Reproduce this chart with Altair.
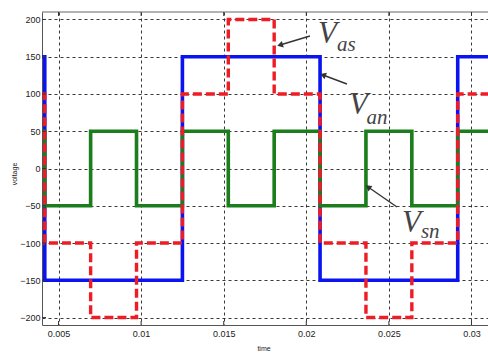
import math
import altair as alt
import pandas as pd

# ---- data ----
edges = [0.004, 0.004167, 0.006944, 0.009722, 0.0125, 0.015278, 0.018056,
         0.020833, 0.023611, 0.026389, 0.029167, 0.031]
van = [150, -150, -150, -150, 150, 150, 150, -150, -150, -150, 150, 150]
vsn = [50, -50, 50, -50, 50, -50, 50, -50, 50, -50, 50, 50]
vas = [100, -100, -200, -100, 100, 200, 100, -100, -200, -100, 100, 100]

x_ticks = [0.005, 0.01, 0.015, 0.02, 0.025, 0.03]
y_ticks = [-200, -150, -100, -50, 0, 50, 100, 150, 200]

# annotation texts and their anchor points (data coords)
ann_main = ["V", "V", "V"]
ann_sub = ["as", "an", "sn"]
ann_main_t = [0.02071, 0.02258, 0.02579]
ann_main_v = [168.4, 73.0, -85.2]
ann_sub_t = [0.02186, 0.02364, 0.02694]
ann_sub_v = [157.7, 60.0, -93.3]
arrow_t0 = [0.02022, 0.02246, 0.02549]
arrow_v0 = [177.8, 113.4, -51.7]
arrow_t1 = [0.01841, 0.02101, 0.02374]
arrow_v1 = [165.7, 125.5, -24.8]

X_DOMAIN = [0.004, 0.031]
Y_DOMAIN = [-210, 210]
W, H = 446, 313

xscale = alt.Scale(domain=X_DOMAIN, nice=False, zero=False)
yscale = alt.Scale(domain=Y_DOMAIN, nice=False, zero=False)

x_axis = alt.Axis(values=x_ticks, format=".3~f", title=None, ticks=False,
                  labelFontSize=9, labelFont="Liberation Sans", labelColor="#222",
                  labelPadding=4, domainColor="#555", domainWidth=1,
                  grid=True, gridDash=[3, 3], gridColor="#222", gridWidth=0.9,
                  labelFlush=False)
y_axis = alt.Axis(values=y_ticks, format="d", title=None, ticks=False,
                  labelFontSize=9, labelFont="Liberation Sans", labelColor="#222",
                  labelPadding=2, domainColor="#555", domainWidth=1,
                  grid=True, gridDash=[3, 3], gridColor="#222", gridWidth=0.9)


def X(field):
    return alt.X(field, type="quantitative", scale=xscale, axis=x_axis)


def Y(field):
    return alt.Y(field, type="quantitative", scale=yscale, axis=y_axis)


def series_df(vals):
    return pd.DataFrame({"t": edges, "v": vals})


base_line = alt.Chart(series_df(van)).mark_line(
    interpolate="step-after", color="#0a14f0", strokeWidth=3.6, clip=True
).encode(x=X("t"), y=Y("v"))

green_line = alt.Chart(series_df(vsn)).mark_line(
    interpolate="step-after", color="#1b7d1b", strokeWidth=3.6, clip=True
).encode(x=X("t"), y=Y("v"))

red_line = alt.Chart(series_df(vas)).mark_line(
    interpolate="step-after", color="#ee1c24", strokeWidth=3.4,
    strokeDash=[9, 4], clip=True
).encode(x=X("t"), y=Y("v"))

# inward tick marks and top border
xt = pd.DataFrame({"t": x_ticks})
yt = pd.DataFrame({"v": y_ticks})
top_ticks = alt.Chart(xt).mark_rule(color="#333", strokeWidth=1).encode(
    x=X("t"), y=alt.value(0), y2=alt.value(4))
bot_ticks = alt.Chart(xt).mark_rule(color="#333", strokeWidth=1).encode(
    x=X("t"), y=alt.value(H), y2=alt.value(H - 4))
left_ticks = alt.Chart(yt).mark_rule(color="#333", strokeWidth=1).encode(
    y=Y("v"), x=alt.value(0), x2=alt.value(4))
top_border = alt.Chart(pd.DataFrame({"a": [0]})).mark_rule(
    color="#666", strokeWidth=1).encode(x=alt.value(0), x2=alt.value(W), y=alt.value(0))

# arrows
sx = W / (X_DOMAIN[1] - X_DOMAIN[0])
sy = H / (Y_DOMAIN[1] - Y_DOMAIN[0])
angles = []
for a0, b0, a1, b1 in zip(arrow_t0, arrow_v0, arrow_t1, arrow_v1):
    dx = (a1 - a0) * sx
    dy = -(b1 - b0) * sy
    angles.append(math.degrees(math.atan2(dx, -dy)) % 360)
arr = pd.DataFrame({"t": arrow_t0, "v": arrow_v0, "t1": arrow_t1,
                    "v1": arrow_v1, "ang": angles})
arrow_lines = alt.Chart(arr).mark_rule(color="#333", strokeWidth=1.4).encode(
    x=X("t"), y=Y("v"), x2="t1:Q", y2="v1:Q")
arrow_heads = alt.Chart(arr).mark_point(
    shape="triangle-up", filled=True, color="#333", size=45, opacity=1
).encode(x=X("t1"), y=Y("v1"), angle=alt.Angle("ang:Q", scale=None))

# annotation text
am = pd.DataFrame({"t": ann_main_t, "v": ann_main_v, "s": ann_main})
asub = pd.DataFrame({"t": ann_sub_t, "v": ann_sub_v, "s": ann_sub})
main_text = alt.Chart(am).mark_text(
    align="left", baseline="alphabetic", font="Liberation Serif",
    fontStyle="italic", fontSize=31, color="#444"
).encode(x=X("t"), y=Y("v"), text="s:N")
sub_text = alt.Chart(asub).mark_text(
    align="left", baseline="alphabetic", font="Liberation Serif",
    fontStyle="italic", fontSize=21, color="#444"
).encode(x=X("t"), y=Y("v"), text="s:N")

# axis titles
ytitle = alt.Chart(pd.DataFrame({"s": ["voltage"]})).mark_text(
    fontSize=7, font="Liberation Sans", angle=270, color="#222"
).encode(x=alt.value(-27), y=alt.value(162), text="s:N")
xtitle = alt.Chart(pd.DataFrame({"s": ["time"]})).mark_text(
    fontSize=7, font="Liberation Sans", color="#222"
).encode(x=alt.value(222), y=alt.value(337), text="s:N")

chart = alt.layer(
    base_line, green_line, red_line, top_border, top_ticks, bot_ticks, left_ticks,
    arrow_lines, arrow_heads, main_text, sub_text, ytitle, xtitle
).properties(
    width=W, height=H,
    padding={"left": 42, "top": 12, "right": 0, "bottom": 28},
    autosize=alt.AutoSizeParams(type="none"),
    background="white",
).configure_view(stroke="transparent")

chart.save("out.html", embed_options={"renderer": "svg", "actions": False})
